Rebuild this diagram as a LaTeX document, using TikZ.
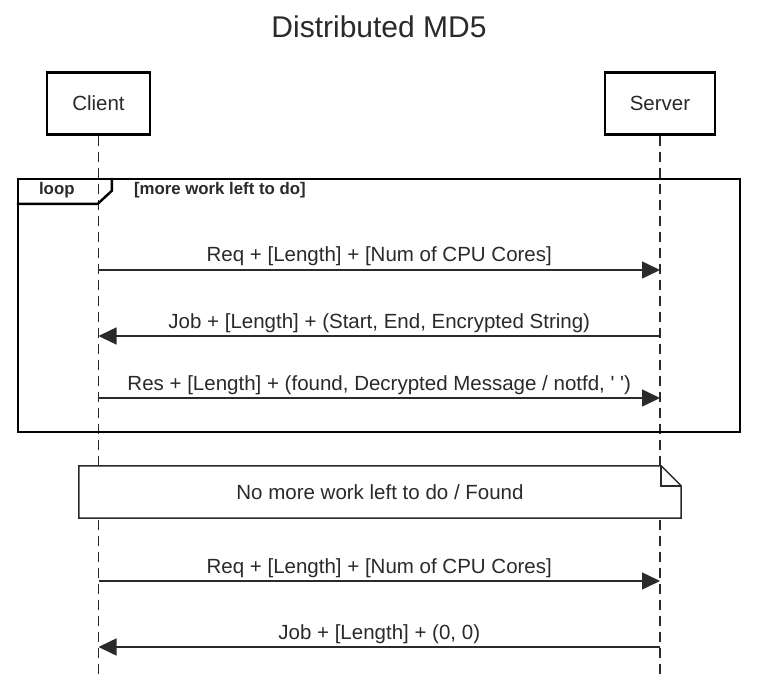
\documentclass[tikz,border=0pt]{standalone}
\usepackage{fontspec}
\setmainfont{Liberation Sans}
\usetikzlibrary{
    positioning,
    arrows.meta
    }

\definecolor{ink}{HTML}{2A2A2A}

\begin{document}
\begin{tikzpicture}[x=1pt, y=-1pt]
\tikzset{actor/.style =
        {
            rectangle,
            line width=2.4pt,
            draw=black,
            fill=white,
            inner xsep=25pt,
            minimum height=62pt,
            text=ink,
            font=\fontsize{20.5}{24}\selectfont
        }
}

\tikzset{lifeline/.style =
        {
            line width=1.6pt,
            ink,
            dash pattern=on 10pt off 6pt
        }
}

\tikzset{msg/.style =
        {
            line width=1.5pt,
            ink,
            -{Triangle[length=18pt, width=17pt]}
        }
}

\tikzset{msg label/.style =
        {
            above,
            inner sep=3pt,
            text=ink,
            font=\fontsize{20.5}{24}\selectfont
        }
}

\tikzset{frame/.style =
        {
            rectangle,
            line width=2.4pt,
            draw=black,
            inner sep=0pt
        }
}

\tikzset{note/.style =
        {
            rectangle,
            fill=white,
            inner sep=0pt,
            text=ink,
            font=\fontsize{20.5}{24}\selectfont
        }
}

\tikzset{note line/.style = { line width=1.5pt, ink } }
		\fill[white] (0,0) rectangle (763,680);
		\useasboundingbox (0,0) rectangle (763,680);

		\node[text=ink, font=\fontsize{30}{36}\selectfont] (title) at (379,27) {Distributed MD5};

		\node[actor] (client) at (98.5,103.5) {Client};
		\node[actor] (server) at (660,103.5) {Server};

		\foreach \who in {client, server}
		{
			\coordinate (\who-end) at (\who.south |- 0,680);
			\draw [lifeline] (\who.south) -- (\who-end);
		}

		% loop fragment
		\node[frame, minimum width=722pt, minimum height=253pt] (loop) at (379,305.5) {};
		\draw [line width=2.4pt] ([xshift=95pt]loop.north west) -- ++(0,13) -- ++(-14,13)
			-- ([yshift=-26pt]loop.north west);
		\node[font=\bfseries\fontsize{16.8}{20}\selectfont, text=ink] (loop-kw)
			at ([xshift=40pt, yshift=-12pt]loop.north west) {loop};
		\node[font=\bfseries\fontsize{16.8}{20}\selectfont, text=ink, anchor=west, inner sep=0pt] (loop-guard)
			at ([xshift=117pt, yshift=-12pt]loop.north west) {[more work left to do]};

		% note
		\node[note, minimum width=602pt, minimum height=52pt] (stop-note) at (380,492)
			{No more work left to do / Found};
		\draw [note line] (stop-note.south west) -- (stop-note.north west)
			-- ([xshift=-20pt]stop-note.north east) -- ([yshift=-20pt]stop-note.north east)
			-- (stop-note.south east) -- cycle;
		\draw [note line] ([xshift=-20pt]stop-note.north east) |- ([yshift=-20pt]stop-note.north east);

		% messages
		\foreach \name / \y / \from / \to / \txt in
			{req1/270/client/server/{Req + [Length] + [Num of CPU Cores]},
				job1/336/server/client/{Job + [Length] + (Start, End, Encrypted String)},
				res1/398/client/server/{Res + [Length] + (found, Decrypted Message / notfd, \textquotesingle\ \textquotesingle)},
				req2/581/client/server/{Req + [Length] + [Num of CPU Cores]},
				job2/647/server/client/{Job + [Length] + (0, 0)}}
			{
				\coordinate (client-\name) at (client.south |- 0,\y);
				\coordinate (server-\name) at (server.south |- 0,\y);
				\draw [msg] (\from-\name) -- node[msg label] {\txt} (\to-\name);
			}
	\end{tikzpicture}
\end{document}
